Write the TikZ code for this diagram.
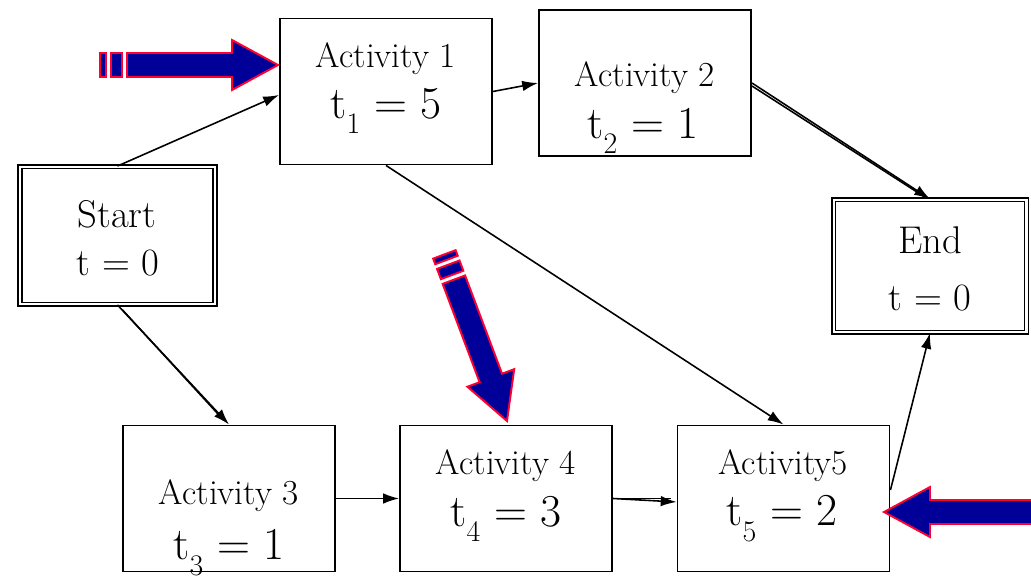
\documentclass[tikz,border=0pt]{standalone}
\usepackage{tikz}
\usetikzlibrary{arrows.meta,positioning}
\definecolor{arrowblue}{RGB}{0,0,153}
\definecolor{arrowred}{RGB}{255,0,51}
\newcommand{\tsub}[1]{\raisebox{-0.8ex}{\fontsize{17}{17}\selectfont #1}}

\begin{document}
\begin{tikzpicture}[
  box/.style={rectangle,draw,line width=1.1pt,minimum width=4.24cm,
              minimum height=2.92cm,inner sep=0pt},
  dbox/.style={rectangle,draw,double,double distance=1.4pt,line width=0.8pt},
  acttitle/.style={font=\fontsize{20}{20}\selectfont,inner sep=0pt},
  acttime/.style={font=\fontsize{26}{26}\selectfont,inner sep=0pt},
  endtext/.style={font=\fontsize{22}{22}\selectfont,inner sep=0pt},
  arc/.style={-{Latex[length=9pt,width=6pt]},line width=0.9pt},
  bigarrow/.style={fill=arrowblue,draw=arrowred,line width=1.1pt,line join=miter},
  fatarrow/.pic={
    \draw[bigarrow] (0,0) -- (-0.92,0.5) -- (-0.92,0.24) -- (-3.02,0.24)
      -- (-3.02,-0.24) -- (-0.92,-0.24) -- (-0.92,-0.5) -- cycle;
    \draw[bigarrow] (-3.34,-0.24) rectangle (-3.12,0.24);
    \draw[bigarrow] (-3.56,-0.24) rectangle (-3.44,0.24);
  }
]
\clip (0,0) rectangle (20.62,11.58);
%% Boxes
\node[box] (A1) at (7.72,9.75) {};
\node[box] (A2) at (12.9,9.92) {};
\node[dbox,minimum width=3.9cm,minimum height=2.75cm] (S) at (2.35,6.87) {};
\node[dbox,minimum width=3.85cm,minimum height=2.65cm] (E) at (18.6,6.26) {};
\node[box] (A3) at (4.58,1.61) {};
\node[box] (A4) at (10.12,1.61) {};
\node[box] (A5) at (15.67,1.61) {};
%% Texts
\node[acttitle] (a1title) at (7.72,10.4) {Activity 1};
\node[acttime] (a1time) at (7.72,9.36) {t\tsub{1} = 5};
\node[acttitle] (a2title) at (12.9,10.02) {Activity 2};
\node[acttime] (a2time) at (12.86,8.96) {t\tsub{2} = 1};
\node[endtext] (stitle) at (2.34,7.3) {Start};
\node[endtext] (stime) at (2.36,6.32) {t = 0};
\node[endtext] (etitle) at (18.6,6.78) {End};
\node[endtext] (etime) at (18.6,5.62) {t = 0};
\node[acttitle] (a3title) at (4.58,1.66) {Activity 3};
\node[acttime] (a3time) at (4.58,0.52) {t\tsub{3} = 1};
\node[acttitle] (a4title) at (10.12,2.26) {Activity 4};
\node[acttime] (a4time) at (10.12,1.2) {t\tsub{4} = 3};
\node[acttitle] (a5title) at (15.66,2.26) {Activity5};
\node[acttime] (a5time) at (15.64,1.2) {t\tsub{5} = 2};
%% Arcs
\draw[arc] (S.north) -- ([yshift=-0.07cm]A1.west);
\draw[arc] (A1.east) -- (A2.west);
\draw[arc] (A2.east) -- (E.north);
\draw[line width=0.9pt] ([yshift=-0.06cm]A2.east) -- ([xshift=-0.12cm,yshift=0.05cm]E.north);
\draw[arc] (A1.south) -- (A5.north);
\draw[arc] (S.south) -- (A3.north);
\draw[line width=0.9pt] ([xshift=0.1cm,yshift=-0.1cm]S.south) -- ([xshift=-0.1cm,yshift=0.08cm]A3.north);
\draw[arc] (A3.east) -- (A4.west);
\draw[arc] (A4.east) -- ([yshift=-0.07cm]A5.west);
\draw[line width=0.9pt] (A4.east) -- ([xshift=-0.12cm]A5.west);
\draw[arc] ([yshift=0.17cm]A5.east) -- (E.south);
%% Pointers
\pic at (5.56,10.28) {fatarrow};
\pic[rotate=-69.4] at (10.14,3.16) {fatarrow};
\pic[rotate=180] at (17.68,1.34) {fatarrow};
\end{tikzpicture}
\end{document}
